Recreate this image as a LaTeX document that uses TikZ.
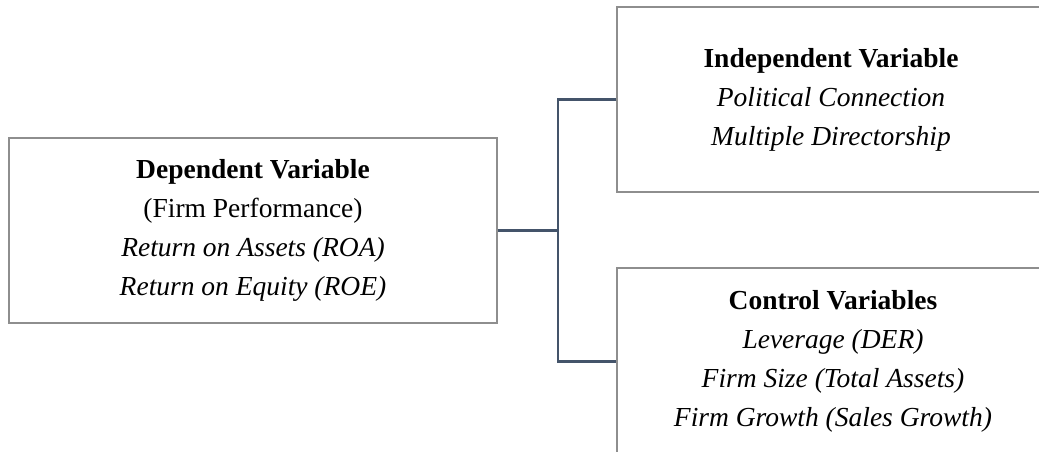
\documentclass[tikz,border=0pt]{standalone}
\usepackage{fontspec}
\setmainfont{Liberation Serif}
\definecolor{conncol}{HTML}{44546A}
\definecolor{boxcol}{HTML}{8E8E8E}
\tikzset{
  x=1pt,y=-1pt,
  varbox/.style={draw=boxcol, line width=1.3pt, rectangle, inner sep=0pt, align=center,
    font=\fontsize{27.5}{39}\selectfont},
  conn/.style={draw=conncol, line width=2.6pt}
}
\begin{document}
\begin{tikzpicture}
\useasboundingbox (0,0) rectangle (1039,452);
\clip (0,0) rectangle (1039,452);
\node[varbox, minimum width=488pt, minimum height=185pt] (L) at (253,230.5)
  {\textbf{Dependent Variable}\\(Firm Performance)\\\textit{Return on Assets (ROA)}\\\textit{Return on Equity (ROE)}};
\node[varbox, minimum width=428pt, minimum height=185pt] (I) at (831,99.5)
  {\textbf{Independent Variable}\\\textit{Political Connection}\\\textit{Multiple Directorship}};
\node[varbox, minimum width=432pt, minimum height=187pt] (C) at (833,361.5)
  {\textbf{Control Variables}\\\textit{Leverage (DER)}\\\textit{Firm Size (Total Assets)}\\\textit{Firm Growth (Sales Growth)}};
\coordinate (j) at (558,230.5);
\draw[conn] (L.east) -- (j);
\draw[conn] (I.west) -- (I.west -| j) -- (C.west -| j) -- (C.west);
\end{tikzpicture}
\end{document}
